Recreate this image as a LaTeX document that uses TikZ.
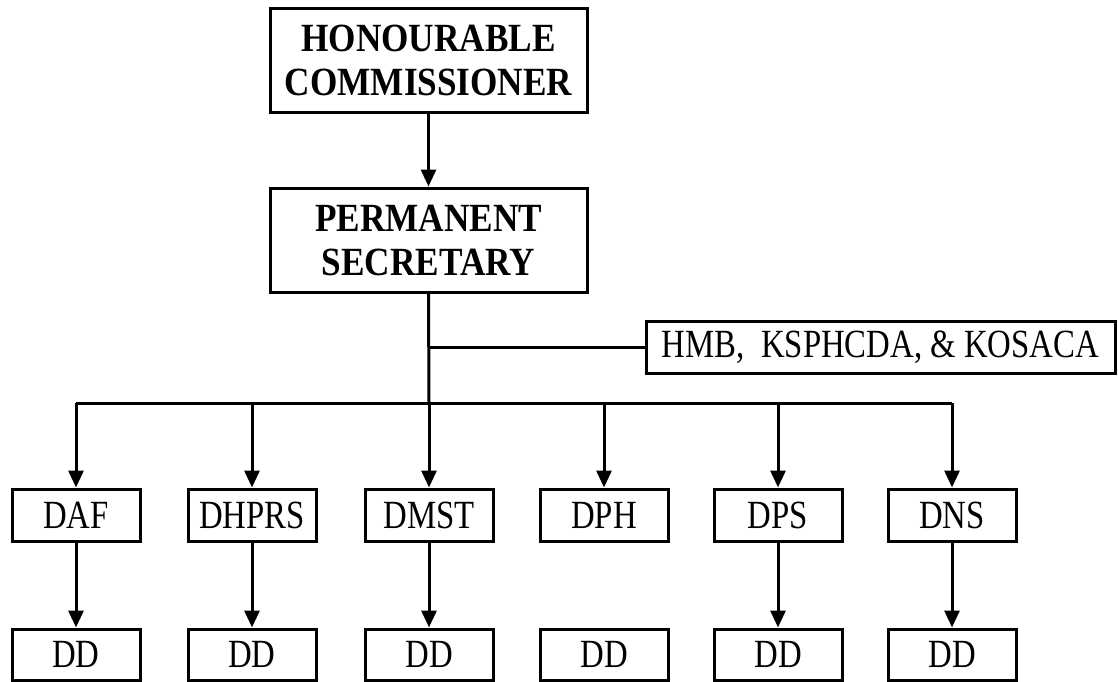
\documentclass[tikz,border=0pt]{standalone}
\usepackage{fontspec}
\setmainfont{Liberation Serif}
\newfontfamily\regf[FakeStretch=0.82]{Liberation Serif}
\newfontfamily\bldf[FakeStretch=0.88]{Liberation Serif}
\usetikzlibrary{arrows.meta}
\begin{document}
\begin{tikzpicture}[x=1pt,y=-1pt,
  box/.style={draw, line width=3pt, inner sep=0pt, align=center,
    font=\regf\fontsize{40}{44}\selectfont},
  big/.style={box, font=\bldf\bfseries\fontsize{40}{44}\selectfont,
    minimum width=317pt, minimum height=104pt},
  small/.style={box, minimum width=128pt, minimum height=52pt},
  conn/.style={line width=3pt},
  arr/.style={conn, -{Triangle[length=17pt,width=15pt]}}]
\useasboundingbox (0,0) rectangle (1118,682);

\node[big] (hc) at (428.5,60.5) {HONOURABLE\\COMMISSIONER};
\node[big] (ps) at (428.5,240) {PERMANENT\\SECRETARY};
\node[box, minimum width=469pt, minimum height=52pt] (hmb) at (880.5,347) {HMB,\ \ KSPHCDA, \& KOSACA};

\node[small] (daf)   at (76,515)  {DAF};
\node[small] (dhprs) at (252,515) {DHPRS};
\node[small] (dmst)  at (429,515) {DMST};
\node[small] (dph)   at (604,515) {DPH};
\node[small] (dps)   at (778,515) {DPS};
\node[small] (dns)   at (952,515) {DNS};

\node[small, minimum height=51pt] (dd1) at (76,654.5)  {DD};
\node[small, minimum height=51pt] (dd2) at (252,654.5) {DD};
\node[small, minimum height=51pt] (dd3) at (429,654.5) {DD};
\node[small, minimum height=51pt] (dd4) at (604,654.5) {DD};
\node[small, minimum height=51pt] (dd5) at (778,654.5) {DD};
\node[small, minimum height=51pt] (dd6) at (952,654.5) {DD};

\coordinate (side) at (429,347);
\coordinate (bus) at (429,403);
\coordinate (b1) at (76,403);
\coordinate (b2) at (252,403);
\coordinate (b4) at (604,403);
\coordinate (b5) at (778,403);
\coordinate (b6) at (952,403);

\draw[arr] (hc.south) -- (ps.north);
\draw[conn] (ps.south) -- (bus);
\draw[conn] (side) -- (hmb.west);
\draw[conn] (b1) -- (b6);

\draw[arr] (b1) -- (daf.north);
\draw[arr] (b2) -- (dhprs.north);
\draw[arr] (bus) -- (dmst.north);
\draw[arr] (b4) -- (dph.north);
\draw[arr] (b5) -- (dps.north);
\draw[arr] (b6) -- (dns.north);

\draw[arr] (daf.south) -- (dd1.north);
\draw[arr] (dhprs.south) -- (dd2.north);
\draw[arr] (dmst.south) -- (dd3.north);
\draw[arr] (dps.south) -- (dd5.north);
\draw[arr] (dns.south) -- (dd6.north);
\end{tikzpicture}
\end{document}
